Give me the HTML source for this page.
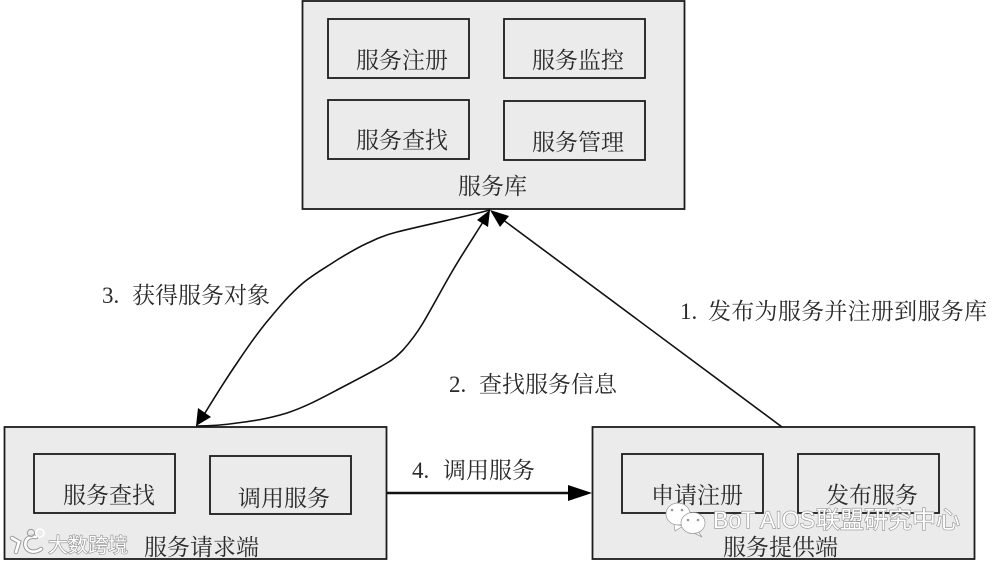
<!DOCTYPE html>
<html lang="zh">
<head>
<meta charset="utf-8">
<style>
html,body{margin:0;padding:0;background:#fff;width:992px;height:563px;overflow:hidden}
svg{display:block;filter:blur(.35px)}
text{font-family:"Liberation Serif","Noto Serif CJK SC",serif;font-size:23px;fill:#2a2a2a}
.box{fill:#ebebeb;stroke:#1c1c1c;stroke-width:1.8}
.in{fill:#ebebeb;stroke:#1c1c1c;stroke-width:1.8}
.ln{fill:none;stroke:#111;stroke-width:1.6}
text.wm{fill:#fff;font-family:"Liberation Sans","Noto Sans CJK SC",sans-serif;stroke:#8f8f8f;stroke-width:1.2;paint-order:stroke fill}
</style>
</head>
<body>
<svg width="992" height="563" viewBox="0 0 992 563" xmlns="http://www.w3.org/2000/svg">
<rect class="box" x="302.5" y="1" width="382" height="208"/>
<rect class="in" x="328" y="19" width="141" height="59"/>
<rect class="in" x="504" y="19" width="141" height="59"/>
<rect class="in" x="328" y="100" width="141" height="59"/>
<rect class="in" x="504" y="101" width="141" height="59"/>
<text x="356" y="68">服务注册</text>
<text x="532" y="68">服务监控</text>
<text x="356" y="148">服务查找</text>
<text x="532" y="150">服务管理</text>
<text x="458" y="194">服务库</text>

<rect class="box" x="4.5" y="427" width="382" height="132"/>
<rect class="in" x="34" y="454" width="141" height="59"/>
<rect class="in" x="210" y="456" width="141" height="58"/>
<text x="63" y="503">服务查找</text>
<text x="238" y="506">调用服务</text>
<text x="144" y="555">服务请求端</text>

<rect class="box" x="592.5" y="427" width="382" height="132"/>
<rect class="in" x="622" y="454" width="141" height="59"/>
<rect class="in" x="798" y="454" width="141" height="59"/>
<text x="651" y="503">申请注册</text>
<text x="826" y="503">发布服务</text>
<text x="723" y="555">服务提供端</text>

<path class="ln" d="M490 210 C460 218 420 226 397 232 C385 235 378 238 370 242 C358 247 347 254 337 260 C325 268 314 274 303 283 C290 294 280 306 270 318 C258 332 247 348 237 363 C226 379 216 395 205 413"/>
<path class="ln" d="M196 426 C210 426 224 425 237 423 C255 421 271 418 287 413 C305 407 320 399 337 390 C354 381 372 372 387 363 C394 359 398 355 403 350 C411 341 417 333 423 323 C433 306 443 287 453 270 C463 253 473 238 483 222"/>
<path class="ln" d="M782 427 L502 219"/>
<path d="M387 493 H570" stroke="#111" stroke-width="2.6" fill="none"/>

<polygon points="490,210 488,227 477,220" fill="#000"/>
<polygon points="490,210 509,216 500,227" fill="#000"/>
<polygon points="196,426 198,408 211,417" fill="#000"/>
<polygon points="592,493 568,485 568,501" fill="#000"/>

<text x="680" y="319">1.</text>
<text x="708" y="319" textLength="279">发布为服务并注册到服务库</text>
<text x="449" y="392">2.</text>
<text x="479" y="392">查找服务信息</text>
<text x="102" y="303">3.</text>
<text x="132" y="303">获得服务对象</text>
<text x="412" y="478">4.</text>
<text x="443" y="478">调用服务</text>

<g fill="none" stroke="#999" stroke-width="4.5" stroke-linecap="round">
<path d="M12 538 L19 542 L16 552"/>
<path d="M36 537 C26 535 23 544 27 549 C31 553 37 552 41 549"/>
</g>
<g fill="none" stroke="#fff" stroke-width="2.6" stroke-linecap="round">
<path d="M12 538 L19 542 L16 552"/>
<path d="M36 537 C26 535 23 544 27 549 C31 553 37 552 41 549"/>
</g>
<circle cx="31" cy="533" r="3.6" fill="none" stroke="#999" stroke-width="1"/>
<circle cx="40" cy="533" r="4" fill="none" stroke="#fff" stroke-width="1.6"/>
<text class="wm" x="48" y="552" style="font-size:20px">大数跨境</text>

<path d="M674 524 L675 531 L683 526 Z" fill="#fff" stroke="#999" stroke-width=".7"/>
<ellipse cx="678" cy="514" rx="12" ry="11" fill="#fff" stroke="#999" stroke-width=".7"/>
<path d="M697 530 L702 537 L692 532 Z" fill="#fff" stroke="#999" stroke-width=".7"/>
<ellipse cx="693" cy="523" rx="12" ry="10.5" fill="#fff" stroke="#999" stroke-width=".7"/>
<circle cx="672" cy="510" r="1.3" fill="#999"/>
<circle cx="682" cy="510" r="1.3" fill="#999"/>
<circle cx="688" cy="520" r="1.3" fill="#999"/>
<circle cx="698" cy="520" r="1.3" fill="#999"/>
<text class="wm" x="713" y="528" style="font-size:24px" textLength="102" lengthAdjust="spacingAndGlyphs">BoT AIOS</text>
<text class="wm" x="816" y="528" style="font-size:24px">联盟研究中心</text>
</svg>
</body>
</html>
